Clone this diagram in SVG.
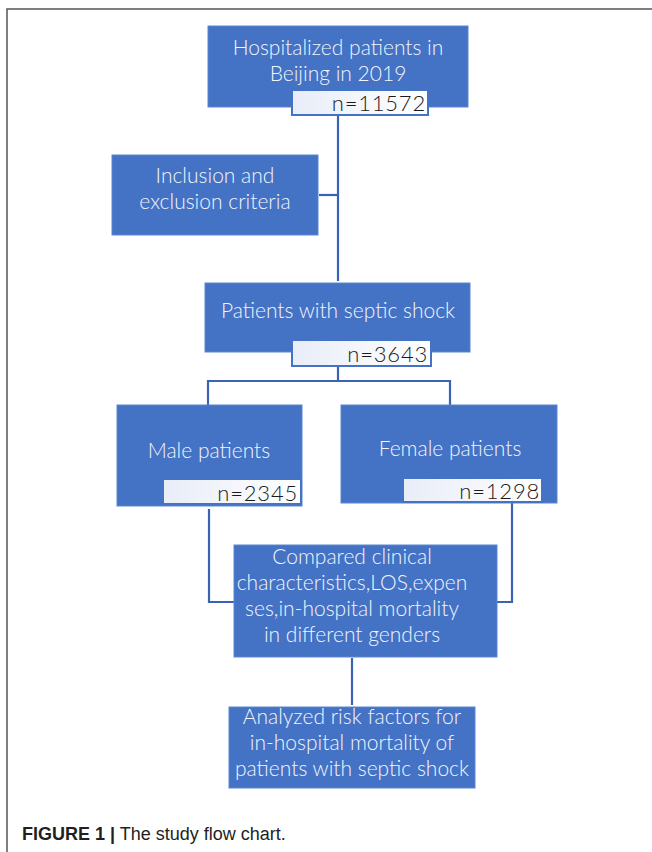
<svg xmlns="http://www.w3.org/2000/svg" width="652" height="852" viewBox="0 0 652 852">
<defs>
<linearGradient id="ng" x1="0" y1="0" x2="1" y2="0">
<stop offset="0" stop-color="#e8edf8"/>
<stop offset="0.5" stop-color="#f4f6fb"/>
<stop offset="1" stop-color="#ffffff"/>
</linearGradient>
</defs>
<style>
.box{fill:#4472c4;stroke:#5b86d0;stroke-width:1}
.nbox{fill:url(#ng);stroke:#4472c4;stroke-width:2}
.t{font-family:Lato,"Noto Sans",sans-serif;font-weight:300;font-size:21px;fill:#f2f5fc;text-anchor:middle}
.n{font-family:Lato,"Noto Sans",sans-serif;font-weight:300;font-size:22px;letter-spacing:0.8px;fill:#1a1a1a;text-anchor:end}
.c{fill:none;stroke:#3a63b4;stroke-width:2.2}
.cap{font-family:"Liberation Sans",Arial,sans-serif;font-size:18px;fill:#231f20}
</style>
<rect x="0" y="0" width="652" height="852" fill="#ffffff"/>
<path d="M7,852 V9 H652" fill="none" stroke="#555" stroke-width="1.5"/>
<g id="connectors">
<path class="c" d="M338,115 V281"/>
<path class="c" d="M319,195 H338"/>
<path class="c" d="M338,366 V381"/>
<path class="c" d="M208,405 V381 H450 V405"/>
<path class="c" d="M209,509 V602 H234"/>
<path class="c" d="M512,503 V602 H497"/>
<path class="c" d="M352,658 V705"/>
</g>
<g id="n1">
<rect class="box" x="208" y="26" width="260" height="81"/>
<text class="t" x="338" y="55">Hospitalized patients in</text>
<text class="t" x="338" y="81">Beijing in 2019</text>
<rect class="nbox" x="292" y="90" width="136" height="25"/>
<text class="n" x="426" y="111">n=11572</text>
</g>
<g id="n2">
<rect class="box" x="112" y="155" width="206" height="80"/>
<text class="t" x="215" y="183">Inclusion and</text>
<text class="t" x="215" y="209">exclusion criteria</text>
</g>
<g id="n3">
<rect class="box" x="205" y="283" width="265" height="69"/>
<text class="t" x="338" y="318">Patients with septic shock</text>
<rect class="nbox" x="292" y="340" width="139" height="26"/>
<text class="n" x="428" y="362">n=3643</text>
</g>
<g id="n4">
<rect class="box" x="117" y="405" width="185" height="101"/>
<text class="t" x="209" y="458">Male patients</text>
<rect class="nbox" x="163" y="479" width="138" height="25"/>
<text class="n" x="298" y="501">n=2345</text>
</g>
<g id="n5">
<rect class="box" x="341" y="405" width="216" height="98"/>
<text class="t" x="450" y="456">Female patients</text>
<rect class="nbox" x="403" y="478" width="139" height="24"/>
<text class="n" x="540" y="499">n=1298</text>
</g>
<g id="n6">
<rect class="box" x="234" y="545" width="263" height="112"/>
<text class="t" x="352" y="564">Compared clinical</text>
<text class="t" x="352" y="590">characteristics,LOS,expen</text>
<text class="t" x="352" y="616">ses,in-hospital mortality</text>
<text class="t" x="352" y="642">in different genders</text>
</g>
<g id="n7">
<rect class="box" x="229" y="707" width="246" height="81"/>
<text class="t" x="352" y="724">Analyzed risk factors for</text>
<text class="t" x="352" y="750">in-hospital mortality of</text>
<text class="t" x="352" y="776">patients with septic shock</text>
</g>
<text class="cap" x="22" y="840"><tspan font-weight="bold">FIGURE 1 |</tspan> The study flow chart.</text>
</svg>
